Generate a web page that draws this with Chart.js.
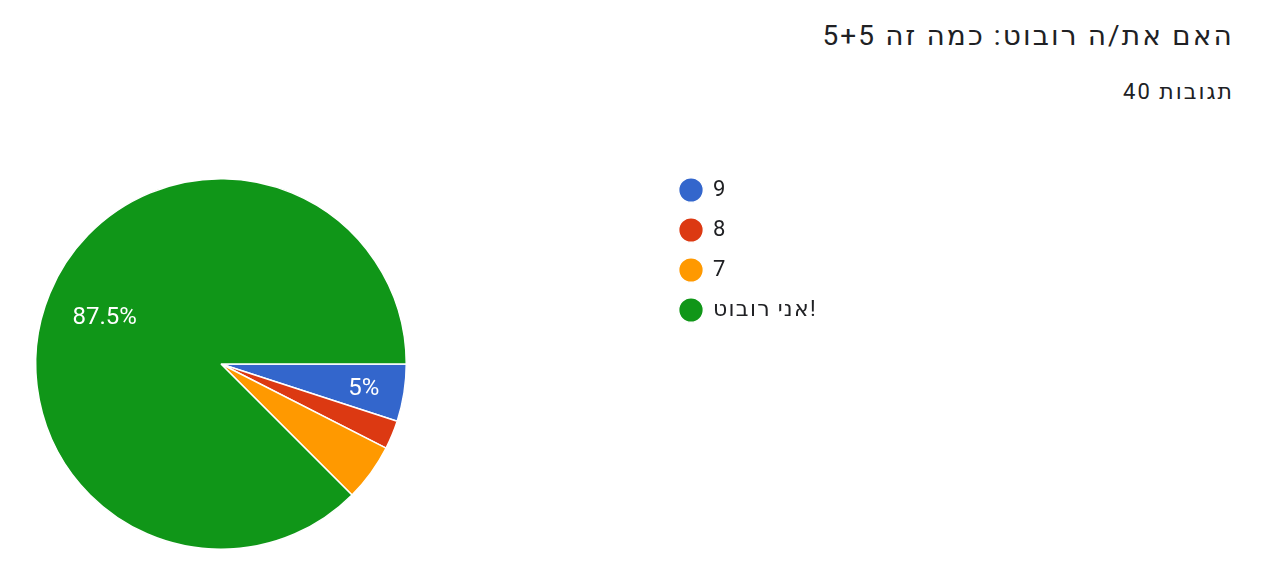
<!DOCTYPE html>
<html lang="he">
<head>
<meta charset="utf-8">
<title>האם את/ה רובוט</title>
<script src="https://cdn.jsdelivr.net/npm/chart.js@4.4.0/dist/chart.umd.min.js"></script>
<style>
    html, body { margin: 0; padding: 0; background: #fff; }
    body { width: 1279px; height: 580px; position: relative; overflow: hidden;
           font-family: Roboto, 'DejaVu Sans', sans-serif; color: #202124; }
    #title { position: absolute; right: 45px; top: 19px; font-size: 28px; line-height: 34px;
             letter-spacing: 2.1px; white-space: nowrap; }
    #subtitle { position: absolute; right: 45px; top: 79px; font-size: 22px; line-height: 26px;
                letter-spacing: 2px; white-space: nowrap; }
    #wrap { position: absolute; left: 0; top: 0; width: 1279px; height: 580px; }
</style>
</head>
<body>
<div id="title">האם את/ה רובוט: כמה זה 5+5</div>
<div id="subtitle">40 תגובות</div>
<div id="wrap"><canvas id="robotChart"></canvas></div>

<script>
// answers and how many people picked each (40 in total)
const answers = ['9', '8', '7', 'אני רובוט!'];
const counts = [2, 1, 2, 35];
const sliceColors = ['#3366cc', '#dc3912', '#ff9900', '#109618'];
// only these slices get a percentage written on them
const labeledSlices = [0, 3];

// the hebrew glyphs we have are narrower than the original ones
const legendLetterSpacing = '1.3px';

const textSpacing = {
    id: 'textSpacing',
    beforeLayout(chart) { chart.ctx.letterSpacing = legendLetterSpacing; },
    beforeDraw(chart) { chart.ctx.letterSpacing = legendLetterSpacing; }
};

// writes the percentage inside a slice
const sliceLabels = {
    id: 'sliceLabels',
    afterDatasetsDraw(chart) {
        const ctx = chart.ctx;
        const meta = chart.getDatasetMeta(0);
        const total = counts.reduce((a, b) => a + b, 0);
        ctx.save();
        ctx.letterSpacing = '0px';
        ctx.fillStyle = '#ffffff';
        ctx.font = '24px Roboto, sans-serif';
        ctx.textAlign = 'center';
        ctx.textBaseline = 'middle';
        labeledSlices.forEach(i => {
            const arc = meta.data[i];
            const share = counts[i] / total;
            const mid = (arc.startAngle + arc.endAngle) / 2;
            const r = arc.outerRadius * (share < 0.5 ? 0.78 : 0.68);
            const pct = Math.round(share * 1000) / 10;
            ctx.fillText(pct + '%', arc.x + Math.cos(mid) * r, arc.y + Math.sin(mid) * r + 2);
        });
        ctx.restore();
    }
};

// the legend sits in the middle of the page, away from the pie
const legendSpot = {
    id: 'legendSpot',
    afterLayout(chart) {
        const lg = chart.legend;
        const w = lg.right - lg.left;
        const h = lg.bottom - lg.top;
        lg.left = 662;
        lg.right = lg.left + w;
        lg.top = 161;
        lg.bottom = lg.top + h;
    }
};

function initRobotChart() {
    const ctx = document.getElementById('robotChart').getContext('2d');
    new Chart(ctx, {
        type: 'pie',
        data: {
            labels: answers,
            datasets: [{
                data: counts,
                backgroundColor: sliceColors,
                borderColor: '#ffffff',
                borderWidth: 1.5
            }]
        },
        options: {
            responsive: true,
            maintainAspectRatio: false,
            animation: false,
            rotation: 90,
            layout: {
                padding: { left: 35, right: 872, top: 178, bottom: 30 }
            },
            plugins: {
                legend: {
                    position: 'chartArea',
                    align: 'start',
                    labels: {
                        usePointStyle: true,
                        pointStyle: 'circle',
                        boxWidth: 22,
                        boxHeight: 17.5,
                        padding: 18,
                        color: '#202124',
                        font: { family: "Roboto, 'DejaVu Sans', sans-serif", size: 22 }
                    }
                },
                tooltip: { enabled: false }
            }
        },
        plugins: [textSpacing, sliceLabels, legendSpot]
    });
}

document.addEventListener('DOMContentLoaded', () => {
    initRobotChart();
});
</script>
</body>
</html>
